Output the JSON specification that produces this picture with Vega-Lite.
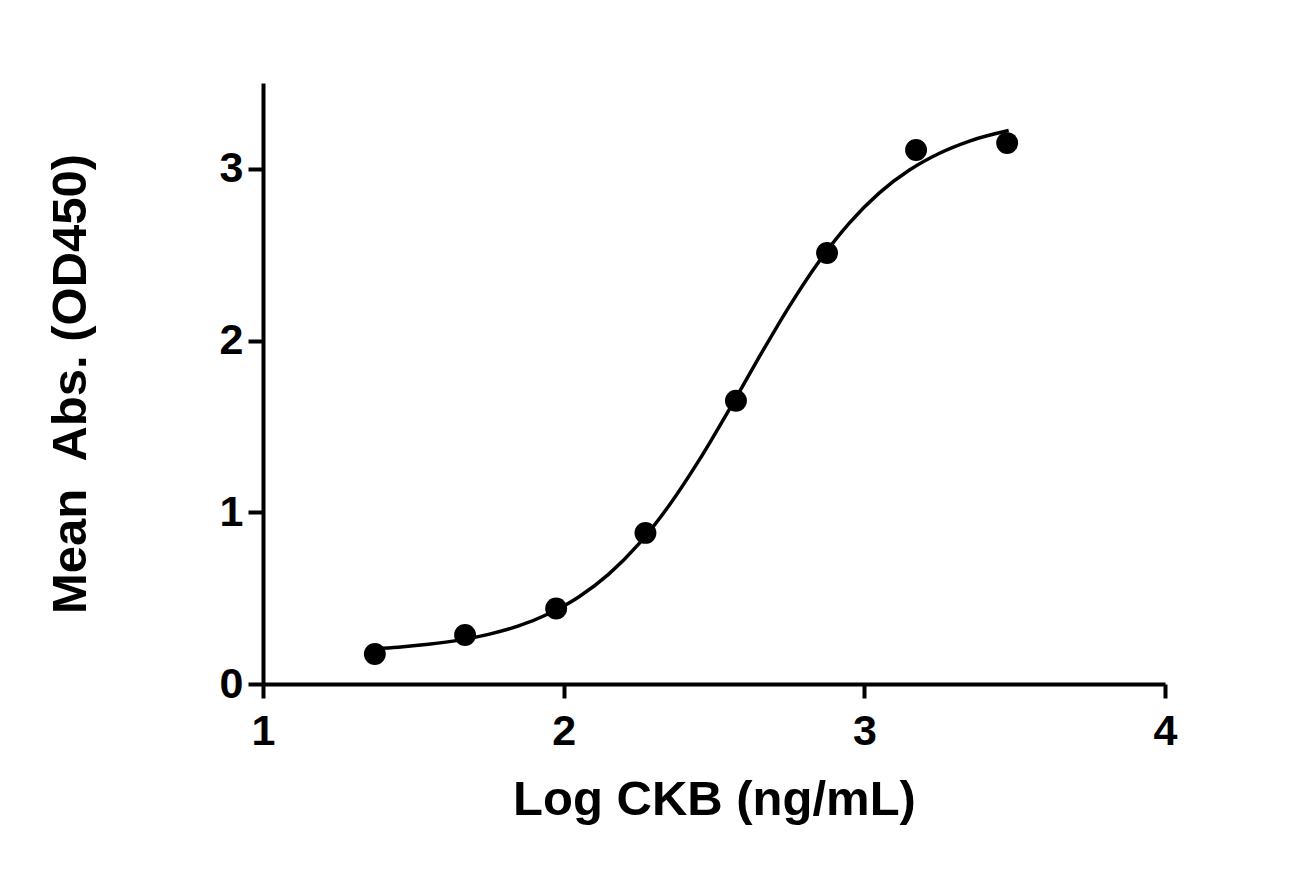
{
  "$schema": "https://vega.github.io/schema/vega-lite/v6.json",
  "width": 902,
  "height": 601,
  "autosize": {"type": "none"},
  "padding": {"left": 263, "top": 83, "right": 137, "bottom": 186},
  "background": "white",
  "config": {
    "view": {"stroke": null},
    "font": "Liberation Sans",
    "axis": {
      "grid": false,
      "domainColor": "black",
      "domainWidth": 4,
      "tickColor": "black",
      "tickWidth": 4,
      "labelColor": "black",
      "labelFont": "Liberation Sans",
      "labelFontWeight": "bold",
      "labelFontSize": 43,
      "labelFlush": false,
      "labelOverlap": false,
      "titleColor": "black",
      "titleFont": "Liberation Sans",
      "titleFontWeight": "bold",
      "titleFontSize": 49
    }
  },
  "datasets": {
    "points": [
      {"logc": 1.372, "abs": 0.175},
      {"logc": 1.672, "abs": 0.285},
      {"logc": 1.975, "abs": 0.44},
      {"logc": 2.272, "abs": 0.88},
      {"logc": 2.573, "abs": 1.65},
      {"logc": 2.876, "abs": 2.51},
      {"logc": 3.172, "abs": 3.11},
      {"logc": 3.475, "abs": 3.15}
    ],
    "fit": [
      {"logc": 1.37, "abs": 0.205},
      {"logc": 1.45, "abs": 0.214},
      {"logc": 1.55, "abs": 0.231},
      {"logc": 1.65, "abs": 0.254},
      {"logc": 1.75, "abs": 0.289},
      {"logc": 1.85, "abs": 0.338},
      {"logc": 1.95, "abs": 0.409},
      {"logc": 2.05, "abs": 0.507},
      {"logc": 2.15, "abs": 0.64},
      {"logc": 2.25, "abs": 0.816},
      {"logc": 2.35, "abs": 1.038},
      {"logc": 2.45, "abs": 1.302},
      {"logc": 2.55, "abs": 1.597},
      {"logc": 2.65, "abs": 1.903},
      {"logc": 2.75, "abs": 2.198},
      {"logc": 2.85, "abs": 2.462},
      {"logc": 2.95, "abs": 2.684},
      {"logc": 3.05, "abs": 2.86},
      {"logc": 3.15, "abs": 2.993},
      {"logc": 3.25, "abs": 3.091},
      {"logc": 3.35, "abs": 3.162},
      {"logc": 3.48, "abs": 3.223}
    ]
  },
  "encoding": {
    "x": {
      "field": "logc",
      "type": "quantitative",
      "scale": {"domain": [1, 4], "nice": false, "zero": false},
      "axis": {
        "title": "Log CKB (ng/mL)",
        "values": [1, 2, 3, 4],
        "format": "d",
        "tickSize": 14,
        "labelPadding": 12,
        "titlePadding": 22
      }
    },
    "y": {
      "field": "abs",
      "type": "quantitative",
      "scale": {"domain": [0, 3.5], "nice": false},
      "axis": {
        "title": "Mean\u00a0\u00a0Abs. (OD450)",
        "values": [0, 1, 2, 3],
        "format": "d",
        "tickSize": 15,
        "labelPadding": 5,
        "titlePadding": 124
      }
    }
  },
  "layer": [
    {
      "data": {"name": "fit"},
      "mark": {"type": "line", "color": "black", "strokeWidth": 3.5, "interpolate": "monotone"}
    },
    {
      "data": {"name": "points"},
      "mark": {"type": "point", "filled": true, "color": "black", "opacity": 1, "size": 480}
    }
  ]
}
